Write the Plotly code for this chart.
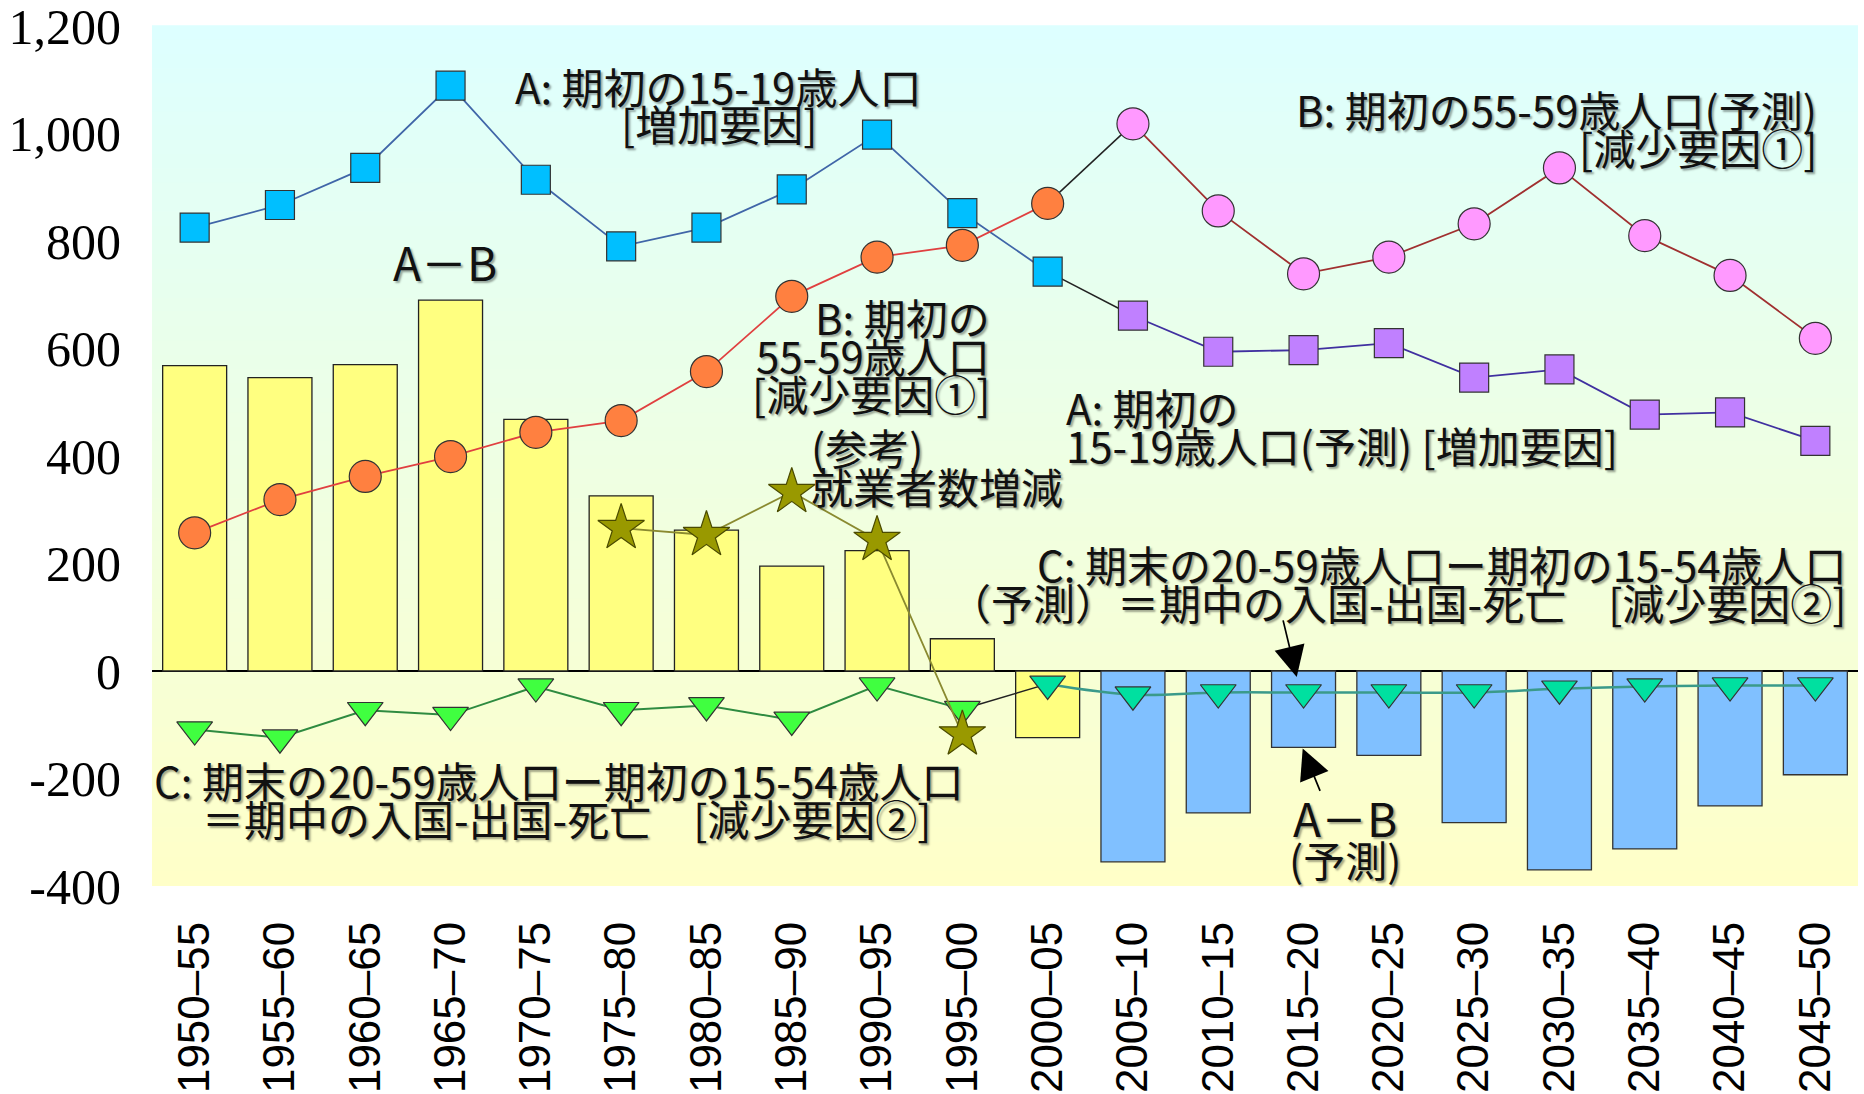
import plotly.graph_objects as go

# ---------------- data ----------------
periods = ["1950–55", "1955–60", "1960–65", "1965–70", "1970–75", "1975–80",
           "1980–85", "1985–90", "1990–95", "1995–00", "2000–05", "2005–10",
           "2010–15", "2015–20", "2020–25", "2025–30", "2030–35", "2035–40",
           "2040–45", "2045–50"]

hist_periods = periods[:11]          # 1950-55 .. 2000-05
proj_periods = periods[11:]          # 2005-10 .. 2045-50
c_hist_periods = periods[:10]        # 1950-55 .. 1995-00
c_proj_periods = periods[10:]        # 2000-05 .. 2045-50
emp_periods = periods[5:10]          # 1975-80 .. 1995-00

# A: population aged 15-19 at start of period
A_hist = [825, 867, 936, 1089, 914, 790, 825, 896, 998, 852, 743]
A_proj = [661, 594, 597, 610, 546, 561, 477, 481, 428]
# B: population aged 55-59 at start of period
B_hist = [257, 319, 362, 399, 444, 466, 557, 697, 770, 792, 870]
B_proj = [1018, 856, 739, 770, 832, 936, 810, 736, 619]
# A-B bars
AB_hist = [568, 546, 570, 690, 468, 326, 262, 195, 224, 60, -124]
AB_proj = [-355, -264, -142, -157, -282, -370, -331, -251, -193]
# C: net migration - deaths
C_hist = [-109, -124, -73, -82, -29, -73, -64, -91, -27, -71]
C_proj = [-24, -44, -40, -40, -40, -40, -33, -29, -27, -27]
# (reference) change in number of employed
emp = [266, 253, 333, 244, -118]

y_ticks = [-400, -200, 0, 200, 400, 600, 800, 1000, 1200]
y_tick_labels = ["-400", "-200", "0", "200", "400", "600", "800", "1,000", "1,200"]

# ---------------- figure ----------------
fig = go.Figure()

# bars
fig.add_trace(go.Bar(x=hist_periods, y=AB_hist, marker=dict(color="#ffff80",
                     line=dict(color="#222222", width=1.3))))
fig.add_trace(go.Bar(x=proj_periods, y=AB_proj, marker=dict(color="#80c0ff",
                     line=dict(color="#333333", width=1.3))))

# black connector segments (historic -> projected)
fig.add_trace(go.Scatter(x=[hist_periods[-1], proj_periods[0]], y=[A_hist[-1], A_proj[0]],
                         mode="lines", line=dict(color="#222222", width=1.5)))
fig.add_trace(go.Scatter(x=[hist_periods[-1], proj_periods[0]], y=[B_hist[-1], B_proj[0]],
                         mode="lines", line=dict(color="#222222", width=1.5)))
fig.add_trace(go.Scatter(x=[c_hist_periods[-1], c_proj_periods[0]], y=[C_hist[-1], C_proj[0]],
                         mode="lines", line=dict(color="#222222", width=1.5)))

mk_line = dict(color="#333333", width=1.2)

# C series
fig.add_trace(go.Scatter(x=c_hist_periods, y=C_hist, mode="lines+markers",
                         line=dict(color="#2e8b40", width=2),
                         marker=dict(symbol="triangle-down", size=31, color="#40ff40", line=mk_line)))
fig.add_trace(go.Scatter(x=c_proj_periods, y=C_proj, mode="lines+markers",
                         line=dict(color="#3a9a8a", width=2.5, shape="spline"),
                         marker=dict(symbol="triangle-down", size=31, color="#00e0a0", line=mk_line)))

# A series
fig.add_trace(go.Scatter(x=hist_periods, y=A_hist, mode="lines+markers",
                         line=dict(color="#4066a8", width=1.8),
                         marker=dict(symbol="square", size=29, color="#00bfff", line=mk_line)))
fig.add_trace(go.Scatter(x=proj_periods, y=A_proj, mode="lines+markers",
                         line=dict(color="#4030a0", width=1.8),
                         marker=dict(symbol="square", size=29, color="#c080ff", line=mk_line)))

# B series
fig.add_trace(go.Scatter(x=hist_periods, y=B_hist, mode="lines+markers",
                         line=dict(color="#e04040", width=1.8),
                         marker=dict(symbol="circle", size=32, color="#ff8040", line=mk_line)))
fig.add_trace(go.Scatter(x=proj_periods, y=B_proj, mode="lines+markers",
                         line=dict(color="#a03030", width=1.8),
                         marker=dict(symbol="circle", size=32, color="#ff99ff", line=mk_line)))

# employment stars
fig.add_trace(go.Scatter(x=emp_periods, y=emp, mode="lines+markers",
                         line=dict(color="#8a8a30", width=1.8),
                         marker=dict(symbol="star", size=35, color="#999900",
                                     line=dict(color="#4a4a00", width=1.2))))

# background gradient (cyan -> yellow)
shapes = []
n = 60
top = (221, 255, 255)
bot = (255, 255, 200)
for i in range(n):
    t = (i + 0.5) / n
    c = tuple(int(round(top[k] + (bot[k] - top[k]) * t)) for k in range(3))
    shapes.append(dict(type="rect", xref="paper", yref="paper", x0=0, x1=1,
                       y0=1 - (i + 1) / n, y1=1 - i / n + 0.001, layer="below",
                       line=dict(width=0), fillcolor="rgb(%d,%d,%d)" % c))

JP = "Noto Sans CJK JP"
TF = dict(family=JP, size=42, color="#111111", shadow="2px 2px 2px rgba(0,0,0,0.35)")
TF_AB = dict(TF, size=46)


def label(text, x, y, anchor="center", font=TF):
    fig.add_annotation(text=text, x=x, y=y, xref="x", yref="y", showarrow=False,
                       xanchor=anchor, yanchor="middle", font=font, borderpad=0)


label("A: 期初の15-19歳人口", 6.14, 1089)
label("[増加要因]", 6.15, 1020)
label("A－B", 2.94, 763, font=TF_AB)
label("B: 期初の55-59歳人口(予測)", 19.03, 1047, "right")
label("[減少要因①]", 19.03, 976, "right")
label("B: 期初の", 9.33, 659, "right")
label("55-59歳人口", 9.33, 588, "right")
label("[減少要因①]", 9.33, 519, "right")
label("A: 期初の", 10.20, 492, "left")
label("15-19歳人口(予測) [増加要因]", 10.20, 421, "left")
label("(参考)", 7.21, 417, "left")
label("就業者数増減", 7.21, 346, "left")
label("C: 期末の20-59歳人口ー期初の15-54歳人口", 19.38, 200, "right")
label("（予測）＝期中の入国-出国-死亡　[減少要因②]", 19.38, 129, "right")
label("C: 期末の20-59歳人口ー期初の15-54歳人口", -0.49, -202, "left")
label("＝期中の入国-出国-死亡　[減少要因②]", 0.08, -273, "left")
label("A－B", 13.49, -271, font=TF_AB)
label("(予測)", 13.49, -348)

# arrows
fig.add_annotation(text="", x=12.92, y=-11, xref="x", yref="y", ax=-14, ay=-58,
                   showarrow=True, arrowhead=2, arrowsize=3.6, arrowwidth=1.7, arrowcolor="#000000")
fig.add_annotation(text="", x=12.99, y=-144, xref="x", yref="y", ax=18, ay=44,
                   showarrow=True, arrowhead=2, arrowsize=3.6, arrowwidth=1.7, arrowcolor="#000000")

fig.update_layout(
    width=1864, height=1094,
    margin=dict(l=152, r=6, t=26, b=208, autoexpand=False),
    paper_bgcolor="white", plot_bgcolor="white",
    showlegend=False, barmode="overlay", bargap=0.25,
    shapes=shapes,
)
fig.update_xaxes(type="category", categoryorder="array", categoryarray=periods,
                 range=[-0.5, len(periods) - 0.5], tickangle=-90, showgrid=False,
                 showline=False, ticks="", ticklabelstandoff=26, automargin=False,
                 tickfont=dict(family="Liberation Sans", size=44, color="#000000"))
fig.update_yaxes(range=[-400, 1200], tickvals=y_ticks, ticktext=y_tick_labels,
                 showgrid=False, zeroline=True, zerolinecolor="#000000", zerolinewidth=1.5,
                 showline=False, ticks="", ticklabelstandoff=30, ticklabeloverflow="allow",
                 automargin=False,
                 tickfont=dict(family="Liberation Serif", size=50, color="#000000"))

fig.write_html("out.html", config={"displayModeBar": False},
               post_script="document.body.style.margin='0';document.body.style.overflow='hidden';")
